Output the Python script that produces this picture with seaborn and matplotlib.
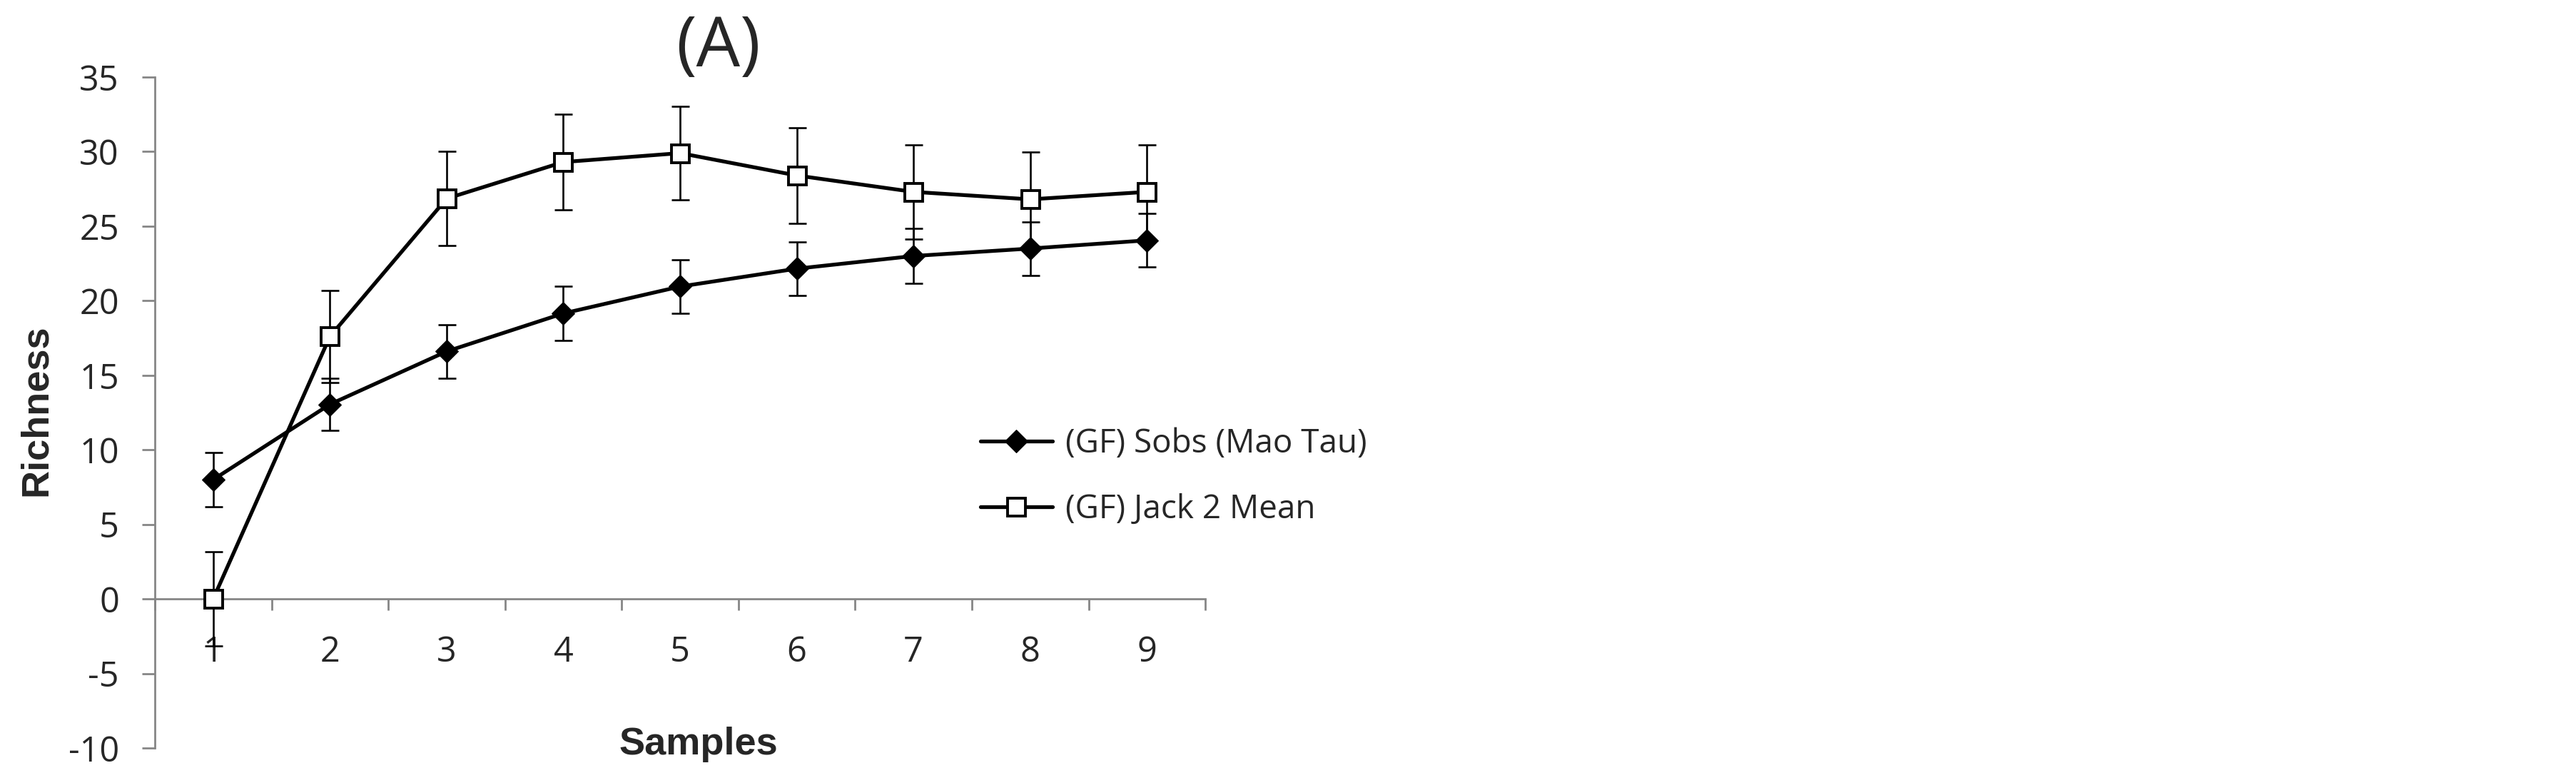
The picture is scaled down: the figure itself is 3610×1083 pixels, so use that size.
import numpy as np
import pandas as pd
import matplotlib
matplotlib.use('Agg')
import matplotlib.pyplot as plt
import seaborn as sns

# values
samples = [1, 2, 3, 4, 5, 6, 7, 8, 9]
sobs_mean = [8.0, 13.05, 16.6, 19.15, 20.95, 22.15, 23.0, 23.5, 24.05]
sobs_err = [1.8, 1.75, 1.8, 1.8, 1.8, 1.8, 1.85, 1.8, 1.8]
jack_mean = [0.0, 17.6, 26.85, 29.3, 29.9, 28.4, 27.3, 26.8, 27.3]
jack_err = [3.15, 3.1, 3.15, 3.2, 3.15, 3.2, 3.15, 3.15, 3.15]
series_names = ['(GF) Sobs (Mao Tau)', '(GF) Jack 2 Mean']
y_ticks = [-10, -5, 0, 5, 10, 15, 20, 25, 30, 35]

df = pd.DataFrame({
    'Samples': samples * 2,
    'Richness': sobs_mean + jack_mean,
    'err': sobs_err + jack_err,
    'series': [series_names[0]] * len(samples) + [series_names[1]] * len(samples),
})

sns.set_theme(style='white')
plt.rcParams['font.family'] = ['Open Sans', 'DejaVu Sans']
plt.rcParams['axes.unicode_minus'] = False

axis_grey = '#868686'

fig = plt.figure(figsize=(36.1, 10.83), dpi=100)
ax = fig.add_axes([0.0601, 0.0323, 0.4078, 0.868])

# error bars first so the markers sit on top of them
for name in series_names:
    sub = df[df['series'] == name]
    ax.errorbar(sub['Samples'], sub['Richness'], yerr=sub['err'], fmt='none',
                ecolor='black', elinewidth=1.9, capsize=9, capthick=1.9, zorder=2)

sub = df[df['series'] == series_names[0]]
sns.lineplot(data=sub, x='Samples', y='Richness', color='black', linewidth=3.8,
             marker='D', markersize=16, markerfacecolor='black', markeredgecolor='black',
             label=series_names[0], errorbar=None, ax=ax, zorder=3)
sub = df[df['series'] == series_names[1]]
sns.lineplot(data=sub, x='Samples', y='Richness', color='black', linewidth=3.8,
             marker='s', markersize=18, markerfacecolor='white', markeredgecolor='black',
             markeredgewidth=2.8, label=series_names[1], errorbar=None, ax=ax, zorder=4)

ax.set_xlim(0.5, 9.5)
ax.set_ylim(-10, 35)
ax.set_xticks(samples)
ax.set_xticklabels([str(s) for s in samples])
ax.set_xticks(np.arange(0.5, 10, 1), minor=True)
ax.set_yticks(y_ticks)
ax.set_yticklabels([str(t) for t in y_ticks])

ax.tick_params(axis='x', which='major', bottom=True, length=0, pad=36, labelsize=35)
ax.tick_params(axis='x', which='minor', bottom=True, length=11.5, width=2, color=axis_grey,
               direction='out')
ax.tick_params(axis='y', which='major', left=True, length=13, width=2, color=axis_grey,
               direction='out', pad=23, labelsize=35)

for side in ['top', 'right']:
    ax.spines[side].set_visible(False)
ax.spines['bottom'].set_position(('data', 0))
for side in ['left', 'bottom']:
    ax.spines[side].set_color(axis_grey)
    ax.spines[side].set_linewidth(2)

ax.set_xlabel('Samples', fontsize=39, fontweight='bold', family=['Liberation Sans', 'DejaVu Sans'])
ax.xaxis.set_label_coords(0.5177, 0.005)
ax.xaxis.label.set_va('center')
ax.set_ylabel('Richness', fontsize=39, fontweight='bold', family=['Liberation Sans', 'DejaVu Sans'])
ax.yaxis.set_label_coords(-0.1128, 0.503)
ax.yaxis.label.set_va('center')

fig.text(0.2787, 0.938, '(A)', fontsize=70, ha='center', va='center')

handles, labels = ax.get_legend_handles_labels()
ax.legend(handles, labels, loc='upper left', bbox_to_anchor=(1374 / 3610, 0.447),
          bbox_transform=fig.transFigure, frameon=False, fontsize=33,
          handlelength=2.2, handletextpad=0.4, labelspacing=1.0,
          borderpad=0, borderaxespad=0)

fig.savefig('out.png', dpi=100)
